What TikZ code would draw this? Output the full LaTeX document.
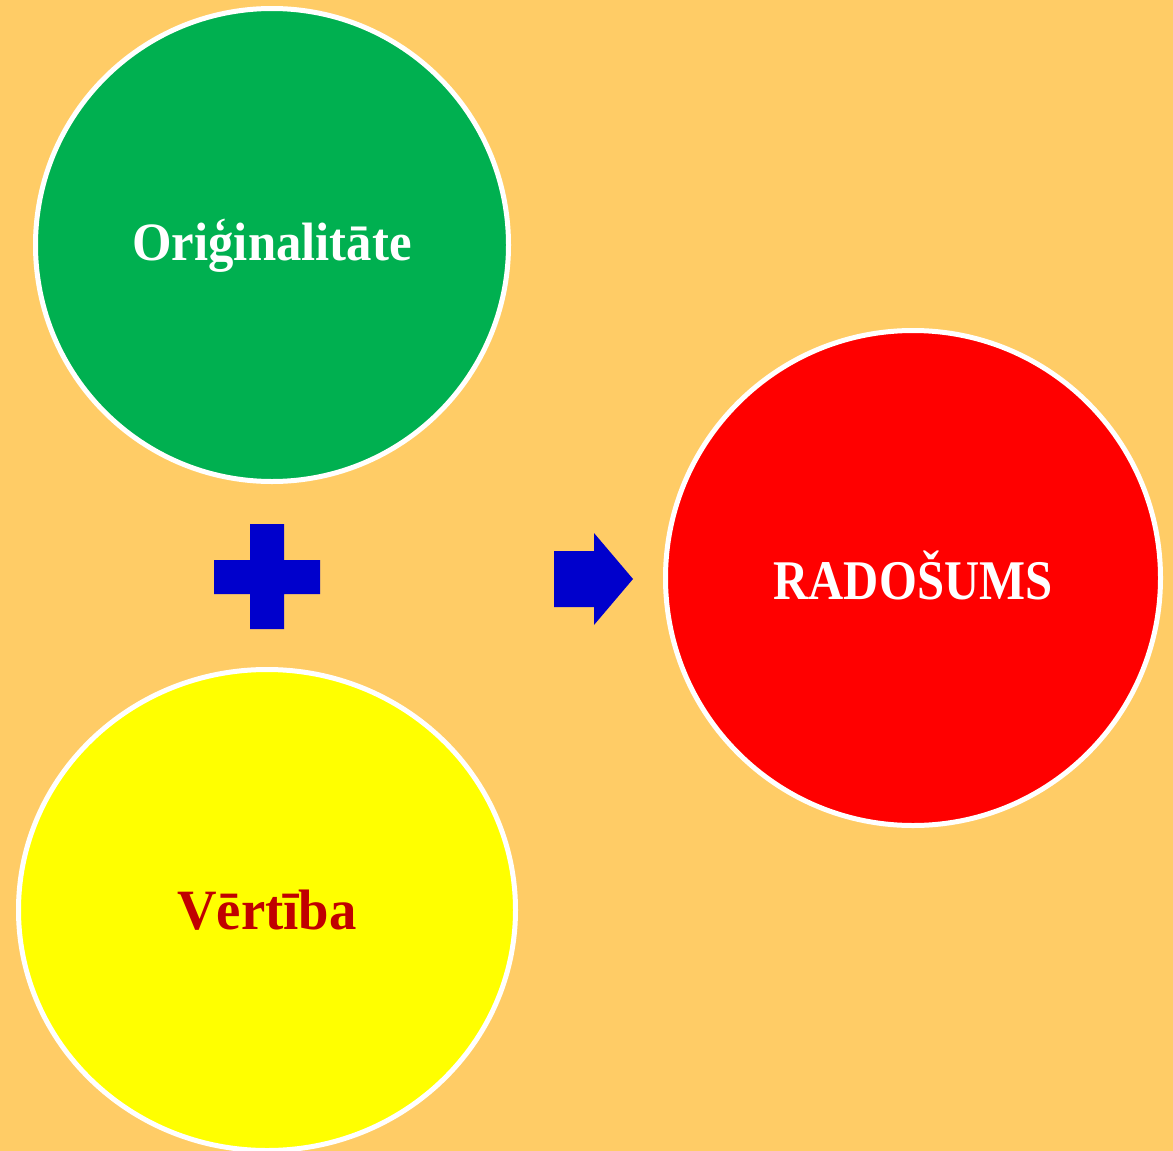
\documentclass[tikz,border=0pt]{standalone}
\usepackage{fontspec}
\setmainfont{Liberation Serif}
\usetikzlibrary{shapes.geometric}
\definecolor{bgc}{HTML}{FFCC66}
\definecolor{grn}{HTML}{00B050}
\definecolor{rd}{HTML}{FF0000}
\definecolor{ylw}{HTML}{FFFF00}
\definecolor{blu}{HTML}{0000CC}
\definecolor{drd}{HTML}{C00000}
\tikzset{
  bubble/.style={circle, draw=white, line width=5pt, inner sep=0pt},
  label/.style={inner sep=0pt, anchor=center},
  sign/.style={fill=blu}
}
\begin{document}
\begin{tikzpicture}[x=1pt,y=-1pt]
\fill[bgc] (0,0) rectangle (1173,1151);
\useasboundingbox (0,0) rectangle (1173,1151);
% circles
\node[bubble, fill=grn, minimum size=473pt] (g) at (272,245) {};
\node[bubble, fill=rd, minimum size=495pt] (r) at (913,578) {};
\node[ellipse, draw=white, line width=5pt, inner sep=0pt, fill=ylw, minimum width=497pt, minimum height=481pt] (y) at (267,910) {};
% texts
\node[label, text=white, font=\fontsize{54}{60}\selectfont\bfseries] (tg) at ([yshift=-1pt]g.center) {\scalebox{0.94}[1]{Oriģinalitāte}};
\node[label, text=white, font=\fontsize{56}{62}\selectfont\bfseries] (tr) at ([yshift=3pt]r.center) {\scalebox{0.87}[1]{RADOŠUMS}};
\node[label, text=drd, font=\fontsize{57}{63}\selectfont\bfseries] (ty) at ([yshift=0pt]y.center) {\scalebox{0.96}[1]{Vērtība}};
% plus sign
\fill[sign] (250,524) -- (284,524) -- (284,560) -- (320,560) -- (320,594) -- (284,594) -- (284,629) -- (250,629) -- (250,594) -- (214,594) -- (214,560) -- (250,560) -- cycle;
% arrow
\fill[sign] (554,551) -- (594,551) -- (594,533) -- (633,579) -- (594,625) -- (594,607) -- (554,607) -- cycle;
\end{tikzpicture}
\end{document}
